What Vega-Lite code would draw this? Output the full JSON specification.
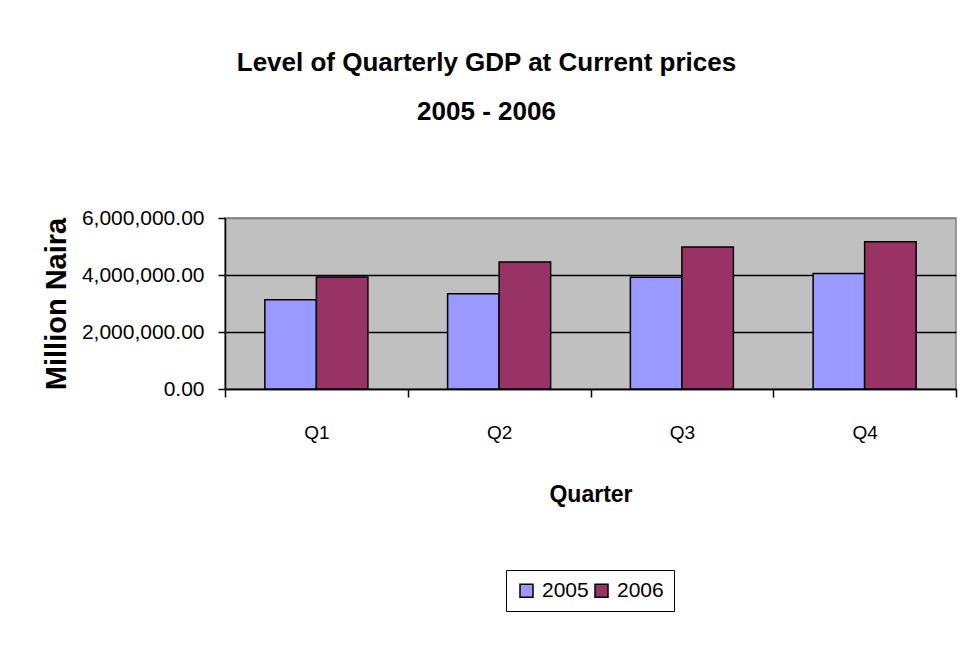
{
  "$schema": "https://vega.github.io/schema/vega-lite/v6.json",
  "width": 731,
  "height": 171,
  "autosize": "none",
  "padding": {"left": 225, "top": 218, "right": 24, "bottom": 259},
  "background": "white",
  "title": {
    "text": ["Level of Quarterly GDP at Current prices", "2005 - 2006"],
    "font": "Liberation Sans",
    "fontSize": 26,
    "fontWeight": "bold",
    "lineHeight": 49,
    "anchor": "middle",
    "dx": -104,
    "offset": 82,
    "color": "black"
  },
  "data": {
    "values": [
      {"quarter": "Q1", "year": "2005", "gdp": 3130000},
      {"quarter": "Q1", "year": "2006", "gdp": 3930000},
      {"quarter": "Q2", "year": "2005", "gdp": 3340000},
      {"quarter": "Q2", "year": "2006", "gdp": 4460000},
      {"quarter": "Q3", "year": "2005", "gdp": 3920000},
      {"quarter": "Q3", "year": "2006", "gdp": 4980000},
      {"quarter": "Q4", "year": "2005", "gdp": 4050000},
      {"quarter": "Q4", "year": "2006", "gdp": 5170000}
    ]
  },
  "mark": {"type": "bar", "stroke": "black", "strokeWidth": 1.5},
  "encoding": {
    "x": {
      "field": "quarter",
      "type": "nominal",
      "scale": {"paddingInner": 0, "paddingOuter": 0},
      "axis": {
        "title": "Quarter",
        "labelAngle": 0,
        "domainColor": "black",
        "domainWidth": 1.5,
        "tickColor": "black",
        "tickWidth": 1.5,
        "tickSize": 8,
        "tickBand": "extent",
        "labelPadding": 26,
        "labelFont": "Liberation Sans",
        "labelFontSize": 19,
        "labelColor": "black",
        "titleFont": "Liberation Sans",
        "titleFontSize": 23,
        "titleFontWeight": "bold",
        "titleColor": "black",
        "titlePadding": 41
      }
    },
    "xOffset": {
      "field": "year",
      "type": "nominal",
      "scale": {"paddingInner": 0, "paddingOuter": 0.774}
    },
    "y": {
      "field": "gdp",
      "type": "quantitative",
      "scale": {"domain": [0, 6000000], "nice": false},
      "axis": {
        "title": "Million Naira",
        "values": [0, 2000000, 4000000, 6000000],
        "format": ",.2f",
        "grid": true,
        "gridColor": {"condition": {"test": "datum.value >= 6000000", "value": "#808080"}, "value": "black"},
        "gridWidth": 1.5,
        "domainColor": "black",
        "domainWidth": 1.5,
        "tickColor": "black",
        "tickWidth": 1.5,
        "tickSize": 7,
        "labelPadding": 14,
        "labelFont": "Liberation Sans",
        "labelFontSize": 21,
        "labelColor": "black",
        "titleFont": "Liberation Sans",
        "titleFontSize": 29,
        "titleFontWeight": "bold",
        "titleColor": "black",
        "titlePadding": 10
      }
    },
    "color": {
      "field": "year",
      "type": "nominal",
      "scale": {"range": ["#9999FF", "#993366"]},
      "legend": {
        "title": null,
        "orient": "none",
        "legendX": 281,
        "legendY": 352,
        "direction": "horizontal",
        "strokeColor": "black",
        "padding": 10,
        "symbolType": "square",
        "symbolSize": 169,
        "symbolStrokeColor": "black",
        "symbolStrokeWidth": 1.5,
        "labelFont": "Liberation Sans",
        "labelFontSize": 21,
        "labelColor": "black",
        "columnPadding": 2,
        "labelOffset": 5
      }
    }
  },
  "config": {
    "view": {"fill": "#C0C0C0", "stroke": "#808080", "strokeWidth": 1.5}
  }
}
